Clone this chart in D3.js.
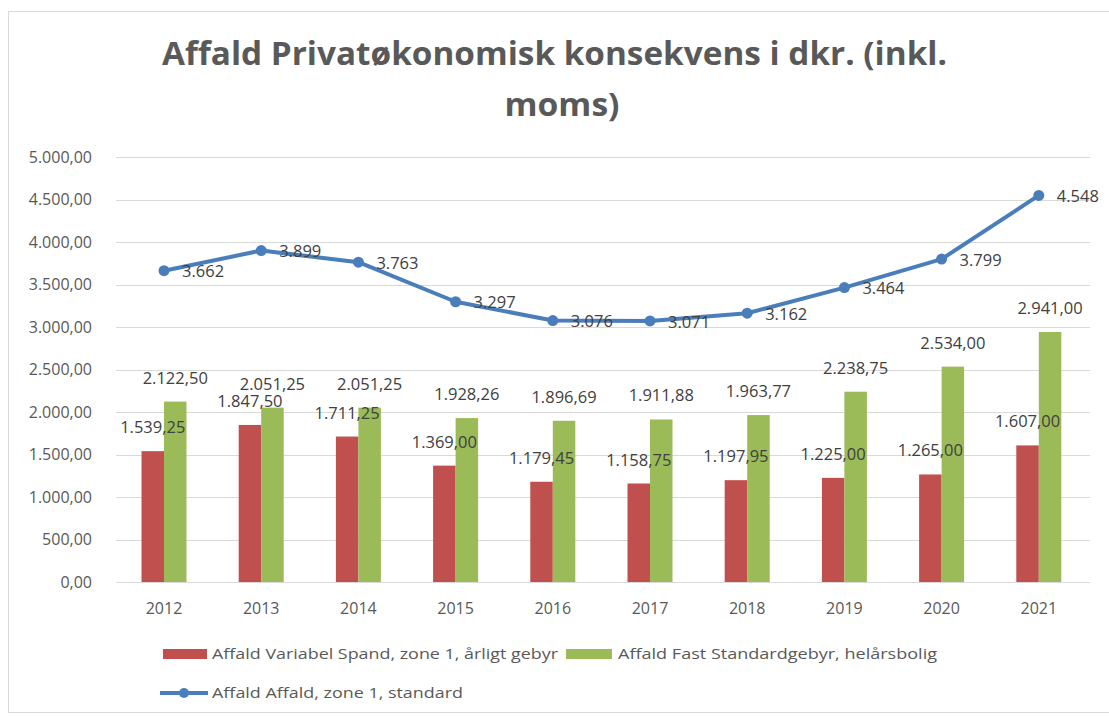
<!DOCTYPE html>
<meta charset="utf-8">
<style>
body { margin: 0; background: #fff; }
text { font-family: "Open Sans", sans-serif; }
.grid line { stroke: #d9d9d9; stroke-width: 1px; }
.tick-label { font-size: 16px; fill: #595959; }
.data-label { font-size: 16.5px; fill: #404040; }
.legend text { font-size: 15px; fill: #595959; }
</style>
<body>
<script src="https://d3js.org/d3.v7.min.js"></script>
<script>
// chart values
var years = ["2012", "2013", "2014", "2015", "2016", "2017", "2018", "2019", "2020", "2021"];
var variabel = [1539.25, 1847.50, 1711.25, 1369.00, 1179.45, 1158.75, 1197.95, 1225.00, 1265.00, 1607.00];
var fast = [2122.50, 2051.25, 2051.25, 1928.26, 1896.69, 1911.88, 1963.77, 2238.75, 2534.00, 2941.00];
var standard = [3662, 3899, 3763, 3297, 3076, 3071, 3162, 3464, 3799, 4548];
var yTicks = [0, 500, 1000, 1500, 2000, 2500, 3000, 3500, 4000, 4500, 5000];
var seriesNames = ["Affald Variabel Spand, zone 1, årligt gebyr", "Affald Fast Standardgebyr, helårsbolig", "Affald Affald, zone 1, standard"];

var width = 1109, height = 717;
var red = "#c0504d", green = "#9bbb59", blue = "#4a7ebb";

var da = d3.formatLocale({decimal: ",", thousands: ".", grouping: [3], currency: ["", ""]});
var fmt2 = da.format(",.2f");
var fmt0 = da.format(",.0f");

var svg = d3.select("body").append("svg")
    .attr("width", width)
    .attr("height", height);

// chart border
svg.append("rect")
    .attr("x", 8.5).attr("y", 11.5)
    .attr("width", 1110).attr("height", 701)
    .attr("fill", "none")
    .attr("stroke", "#d9d9d9");

// title
svg.append("text")
    .attr("x", 162).attr("y", 65)
    .attr("textLength", 785).attr("lengthAdjust", "spacingAndGlyphs")
    .style("font-size", "32px").style("font-weight", "bold").style("fill", "#595959")
    .text("Affald Privatøkonomisk konsekvens i dkr. (inkl.");
svg.append("text")
    .attr("x", 562).attr("y", 116)
    .attr("text-anchor", "middle")
    .attr("textLength", 115).attr("lengthAdjust", "spacingAndGlyphs")
    .style("font-size", "32px").style("font-weight", "bold").style("fill", "#595959")
    .text("moms)");

var x = d3.scaleBand()
    .domain(years)
    .range([115.4, 1087.4])
    .paddingInner(0.537)
    .paddingOuter(0.2685);

var xSub = d3.scaleBand()
    .domain(["v", "f"])
    .range([0, x.bandwidth()]);

var y = d3.scaleLinear()
    .domain([0, 5000])
    .range([582, 157]);

// gridlines
svg.append("g").attr("class", "grid")
  .selectAll("line")
  .data(yTicks)
  .enter().append("line")
    .attr("x1", 116).attr("x2", 1090)
    .attr("y1", function(d) { return Math.round(y(d)) + 0.5; })
    .attr("y2", function(d) { return Math.round(y(d)) + 0.5; });

// y labels
svg.append("g")
  .selectAll("text")
  .data(yTicks)
  .enter().append("text")
    .attr("class", "tick-label")
    .attr("x", 92)
    .attr("y", function(d) { return y(d); })
    .attr("dy", "0.35em")
    .attr("text-anchor", "end")
    .text(function(d) { return fmt2(d); });

// x labels
svg.append("g")
  .selectAll("text")
  .data(years)
  .enter().append("text")
    .attr("class", "tick-label")
    .attr("x", function(d) { return x(d) + x.bandwidth() / 2; })
    .attr("y", 608)
    .attr("dy", "0.35em")
    .attr("text-anchor", "middle")
    .text(function(d) { return d; });

// bars
var bars = svg.append("g");
bars.selectAll("rect.v")
  .data(variabel)
  .enter().append("rect")
    .attr("class", "v")
    .attr("x", function(d, i) { return x(years[i]) + xSub("v"); })
    .attr("y", function(d) { return y(d); })
    .attr("width", xSub.bandwidth())
    .attr("height", function(d) { return y(0) - y(d); })
    .attr("fill", red);
bars.selectAll("rect.f")
  .data(fast)
  .enter().append("rect")
    .attr("class", "f")
    .attr("x", function(d, i) { return x(years[i]) + xSub("f"); })
    .attr("y", function(d) { return y(d); })
    .attr("width", xSub.bandwidth())
    .attr("height", function(d) { return y(0) - y(d); })
    .attr("fill", green);

// line
var line = d3.line()
    .x(function(d, i) { return x(years[i]) + x.bandwidth() / 2; })
    .y(function(d) { return y(d); });

svg.append("path")
    .datum(standard)
    .attr("d", line)
    .attr("fill", "none")
    .attr("stroke", blue)
    .attr("stroke-width", 4)
    .attr("stroke-linejoin", "round");

svg.append("g")
  .selectAll("circle")
  .data(standard)
  .enter().append("circle")
    .attr("cx", function(d, i) { return x(years[i]) + x.bandwidth() / 2; })
    .attr("cy", function(d) { return y(d); })
    .attr("r", 5.5)
    .attr("fill", blue);

// data labels
var labels = svg.append("g");
labels.selectAll("text.v")
  .data(variabel)
  .enter().append("text")
    .attr("class", "data-label")
    .attr("x", function(d, i) { return x(years[i]) + xSub("v") + xSub.bandwidth() / 2; })
    .attr("y", function(d) { return y(d) - 18; })
    .attr("text-anchor", "middle")
    .text(function(d) { return fmt2(d); });
labels.selectAll("text.f")
  .data(fast)
  .enter().append("text")
    .attr("class", "data-label")
    .attr("x", function(d, i) { return x(years[i]) + xSub("f") + xSub.bandwidth() / 2; })
    .attr("y", function(d) { return y(d) - 18; })
    .attr("text-anchor", "middle")
    .text(function(d) { return fmt2(d); });
labels.selectAll("text.s")
  .data(standard)
  .enter().append("text")
    .attr("class", "data-label")
    .attr("x", function(d, i) { return x(years[i]) + x.bandwidth() / 2 + 18; })
    .attr("y", function(d) { return y(d); })
    .attr("dy", "0.4em")
    .text(function(d) { return fmt0(d); });

// legend
var legend = svg.append("g").attr("class", "legend");
legend.append("rect").attr("x", 163).attr("y", 649).attr("width", 44).attr("height", 10).attr("fill", red);
legend.append("text").attr("x", 212).attr("y", 654).attr("dy", "0.35em")
    .attr("textLength", 346).attr("lengthAdjust", "spacingAndGlyphs").text(seriesNames[0]);
legend.append("rect").attr("x", 566).attr("y", 649).attr("width", 46).attr("height", 10).attr("fill", green);
legend.append("text").attr("x", 618).attr("y", 654).attr("dy", "0.35em")
    .attr("textLength", 319).attr("lengthAdjust", "spacingAndGlyphs").text(seriesNames[1]);
legend.append("line").attr("x1", 160).attr("x2", 208).attr("y1", 693).attr("y2", 693)
    .attr("stroke", blue).attr("stroke-width", 4);
legend.append("circle").attr("cx", 184).attr("cy", 693).attr("r", 5).attr("fill", blue);
legend.append("text").attr("x", 212).attr("y", 693).attr("dy", "0.35em")
    .attr("textLength", 251).attr("lengthAdjust", "spacingAndGlyphs").text(seriesNames[2]);
</script>
</body>
